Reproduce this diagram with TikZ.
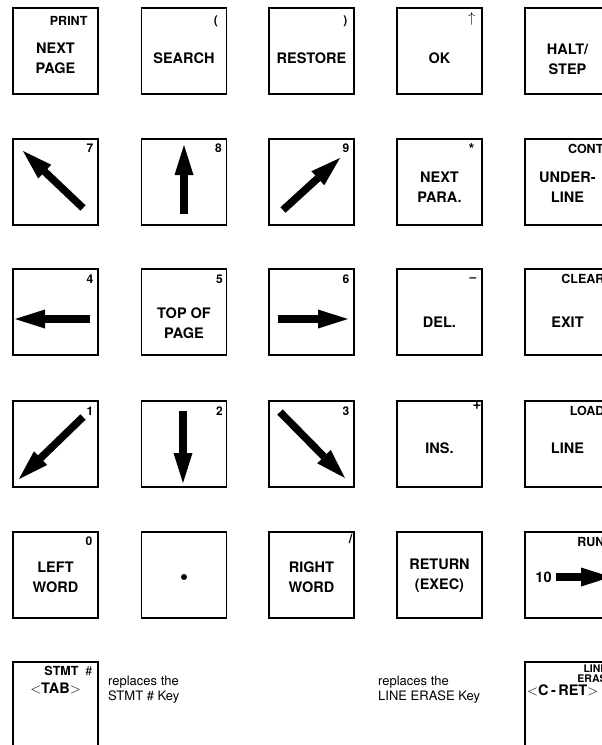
\documentclass[tikz,border=0pt]{standalone}
\usepackage{fontspec}
\setmainfont{TeX Gyre Heros}
\usetikzlibrary{arrows.meta}

\tikzset{
  key/.style={draw, line width=1.2pt, minimum width=85pt, minimum height=86pt, inner sep=0pt},
  keytext/.style={font=\bfseries\fontsize{14.5}{20}\selectfont, align=center, inner sep=0pt},
  tag/.style={font=\bfseries\fontsize{12.5}{12}\selectfont, anchor=north east, inner sep=0pt},
  digit/.style={font=\bfseries\fontsize{12}{12}\selectfont, anchor=north east, inner sep=0pt},
  note/.style={font=\fontsize{13}{15}\selectfont, align=left, anchor=west, inner sep=0pt},
  blockarrow/.style={line width=7.5pt, -{Triangle[length=30pt, width=19pt, line width=0pt]}}
}

\begin{document}
\begin{tikzpicture}[x=1pt, y=-1pt]
\useasboundingbox (0,0) rectangle (602,745);
\clip (0,0) rectangle (602,745);

% row 1
\node[key] (nextpage) at (55.5,51) {};
\node[keytext] (nextpagetxt) at (55.5,58) {NEXT\\PAGE};
\node[tag] (print) at ([shift={(-11,9)}]nextpage.north east) {PRINT};
\node[key] (search) at (184,51) {};
\node[keytext] (searchtxt) at (184,58) {SEARCH};
\node[digit] (lparen) at ([shift={(-9,8)}]search.north east) {(};
\node[key] (restore) at (311.5,51) {};
\node[keytext] (restoretxt) at (311.5,58) {RESTORE};
\node[digit] (rparen) at ([shift={(-7,8)}]restore.north east) {)};
\node[key] (ok) at (439.5,51) {};
\node[keytext] (oktxt) at (439.5,58) {OK};
\node[digit, font=\fontsize{14}{14}\selectfont] (caret) at ([shift={(-7,5)}]ok.north east) {$\uparrow$};
\node[key] (halt) at (567.5,51) {};
\node[keytext] (halttxt) at (567.5,59) {HALT/\\STEP};

% row 2
\node[key] (upleft) at (55.5,182) {};
\draw[blockarrow] (83,208) -- (23,151);
\node[digit] (seven) at ([shift={(-5,5)}]upleft.north east) {7};
\node[key] (up) at (184,182) {};
\draw[blockarrow] (184,214) -- (184,145);
\node[digit] (eight) at ([shift={(-5,5)}]up.north east) {8};
\node[key] (upright) at (311.5,182) {};
\draw[blockarrow] (283,210) -- (340,158);
\node[digit] (nine) at ([shift={(-5,5)}]upright.north east) {9};
\node[key] (nextpara) at (439.5,182) {};
\node[keytext] (nextparatxt) at (439.5,187) {NEXT\\PARA.};
\node[digit, font=\bfseries\fontsize{15}{15}\selectfont] (star) at ([shift={(-8,5)}]nextpara.north east) {*};
\node[key] (underline) at (567.5,182) {};
\node[keytext] (underlinetxt) at (567.5,187) {UNDER-\\LINE};
\node[tag] (cont) at ([shift={(-7,6)}]underline.north east) {CONT};

% row 3
\node[key] (left) at (55.5,312) {};
\draw[blockarrow] (90,319) -- (15,319);
\node[digit] (four) at ([shift={(-5,6)}]left.north east) {4};
\node[key] (topofpage) at (184,312) {};
\node[keytext] (topofpagetxt) at (184,323) {TOP OF\\PAGE};
\node[digit] (five) at ([shift={(-4,6)}]topofpage.north east) {5};
\node[key] (right) at (311.5,312) {};
\draw[blockarrow] (278,319) -- (348,319);
\node[digit] (six) at ([shift={(-5,6)}]right.north east) {6};
\node[key] (del) at (439.5,312) {};
\node[keytext] (deltxt) at (439.5,322) {DEL.};
\node[digit] (minus) at ([shift={(-6,9)}]del.north east) {--};
\node[key] (exit) at (567.5,312) {};
\node[keytext] (exittxt) at (567.5,322) {EXIT};
\node[tag] (clear) at ([shift={(-6,6)}]exit.north east) {CLEAR};

% row 4
\node[key] (downleft) at (55.5,444) {};
\draw[blockarrow] (83,417) -- (19,479);
\node[digit] (one) at ([shift={(-5,6)}]downleft.north east) {1};
\node[key] (down) at (184,444) {};
\draw[blockarrow] (183,411) -- (183,483);
\node[digit] (two) at ([shift={(-4,6)}]down.north east) {2};
\node[key] (downright) at (311.5,444) {};
\draw[blockarrow] (280,412) -- (345,478);
\node[digit] (three) at ([shift={(-5,6)}]downright.north east) {3};
\node[key] (ins) at (439.5,444) {};
\node[keytext] (instxt) at (439.5,448) {INS.};
\node[digit, font=\bfseries\fontsize{15}{15}\selectfont] (plus) at ([shift={(-1,2)}]ins.north east) {+};
\node[key] (line) at (567.5,444) {};
\node[keytext] (linetxt) at (567.5,448) {LINE};
\node[tag] (load) at ([shift={(-6,6)}]line.north east) {LOAD};

% row 5
\node[key] (leftword) at (55.5,575) {};
\node[keytext] (leftwordtxt) at (55.5,577) {LEFT\\WORD};
\node[digit] (zero) at ([shift={(-6,5)}]leftword.north east) {0};
\node[key] (point) at (184,575) {};
\fill ([yshift=-2pt]point.center) circle (3pt);
\node[key] (rightword) at (311.5,575) {};
\node[keytext] (rightwordtxt) at (311.5,577) {RIGHT\\WORD};
\node[digit, font=\bfseries\fontsize{13}{13}\selectfont] (slash) at ([shift={(-2,3)}]rightword.north east) {/};
\node[key] (return) at (439.5,575) {};
\node[keytext] (returntxt) at (439.5,576) {RETURN\\(EXEC)};
\node[key] (run) at (567.5,575) {};
\node[keytext] (runten) at (543.5,577) {10};
\draw[blockarrow, line width=8.5pt] (556,577) -- (611,577);
\node[tag] (runtag) at ([shift={(-6,6)}]run.north east) {RUN};

% row 6
\node[key] (tab) at (55.5,705) {};
\node[keytext] (tabtxt) at (55.5,688) {$<$TAB$>$};
\node[tag] (stmt) at ([shift={(-6,5)}]tab.north east) {STMT\hspace{7pt}\mdseries\#};
\node[note] (stmtnote) at (108,690) {replaces the\\STMT \# Key};
\node[note] (erasenote) at (378,690) {replaces the\\LINE ERASE Key};
\node[key] (cret) at (567.5,705) {};
\node[keytext, anchor=west] (crettxt) at (527,690) {$<$C\,-\,RET$>$};
\node[tag, font=\bfseries\fontsize{10.5}{10}\selectfont, align=center, anchor=north] (lineerase) at ([shift={(28,3)}]cret.north) {LINE\\ERASE};
\end{tikzpicture}
\end{document}
